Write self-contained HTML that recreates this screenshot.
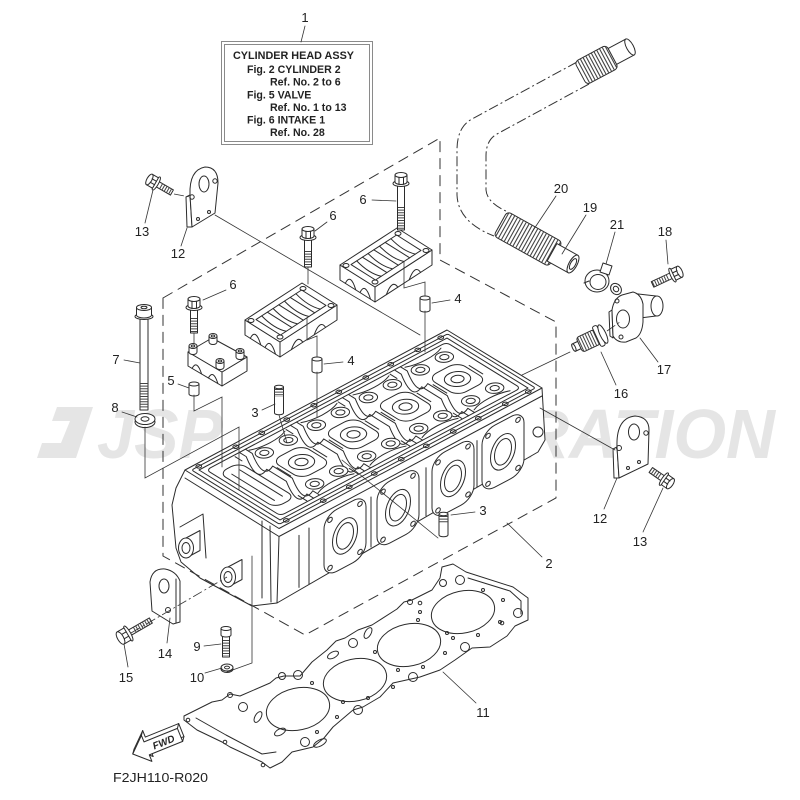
<!DOCTYPE html>
<html><head><meta charset="utf-8"><title>Cylinder Head Assy</title>
<style>
html,body{margin:0;padding:0;background:#fff;width:800px;height:800px;overflow:hidden}
svg{display:block}
.l{fill:none;stroke:#2b2b2b;stroke-width:1;stroke-linejoin:round;stroke-linecap:round}
.w{fill:#fff;stroke:#2b2b2b;stroke-width:1;stroke-linejoin:round}
.th{fill:none;stroke:#333;stroke-width:0.8;stroke-linecap:round}
.dd{fill:none;stroke:#333;stroke-width:1;stroke-dasharray:10 3 2 3}
.thr{fill:none;stroke:#444;stroke-width:6;stroke-dasharray:1 1.6}
.ns *{vector-effect:non-scaling-stroke}
.lb{font-family:"Liberation Sans",Arial,sans-serif;font-size:13px;fill:#222;text-anchor:middle}
.bx{font-family:"Liberation Sans",Arial,sans-serif;font-size:10.6px;font-weight:bold;fill:#222}
</style></head><body>
<svg width="800" height="800" viewBox="0 0 800 800" xmlns="http://www.w3.org/2000/svg">
<rect width="800" height="800" fill="#fff"/>

<!-- watermark -->
<g fill="#e5e5e5">
<polygon points="57,407 93,407 76,458 37,458 42,443 61,443 70,421 52,421"/>
<text x="97" y="458" font-family="Liberation Sans, Arial, sans-serif" font-weight="bold" font-style="italic" font-size="70" textLength="126" lengthAdjust="spacingAndGlyphs">JSP</text>
<text x="288" y="458" font-family="Liberation Sans, Arial, sans-serif" font-weight="bold" font-style="italic" font-size="70" textLength="487" lengthAdjust="spacingAndGlyphs">RESTORATION</text>
</g>

<!-- title box -->
<rect x="221.5" y="41.5" width="151" height="103" fill="none" stroke="#8a8a8a" stroke-width="1"/>
<rect x="224.5" y="44.5" width="145" height="97" fill="none" stroke="#8a8a8a" stroke-width="1"/>
<text class="bx" x="233" y="59" textLength="121" lengthAdjust="spacingAndGlyphs">CYLINDER HEAD ASSY</text>
<text class="bx" x="247" y="73">Fig. 2 CYLINDER 2</text>
<text class="bx" x="270" y="85.5">Ref. No. 2 to 6</text>
<text class="bx" x="247" y="98.3">Fig. 5 VALVE</text>
<text class="bx" x="270" y="110.8">Ref. No. 1 to 13</text>
<text class="bx" x="247" y="123.3">Fig. 6 INTAKE 1</text>
<text class="bx" x="270" y="135.8">Ref. No. 28</text>

<!-- hose -->
<path class="dd" d="M577,62 L472,119 Q457,127 457,150 L457,195 Q458,222 494,236"/>
<path class="dd" d="M589,84 L497,134 Q486,140 486,156 L486,190 Q487,203 508,212"/>
<g transform="translate(630,47) rotate(151.9)">
<rect class="w" x="0" y="-9" width="22" height="18"/>
<rect class="w" x="20" y="-13" width="36" height="26" rx="4"/>
<line x1="21" y1="0" x2="55" y2="0" stroke="#444" stroke-width="25" stroke-dasharray="1.1 2"/>
<ellipse class="w" cx="0" cy="0" rx="3.5" ry="9"/>
</g>
<g transform="translate(573,264) rotate(209.1)">
<rect class="w" x="20" y="-14" width="63" height="28" rx="4"/>
<line x1="21" y1="0" x2="82" y2="0" stroke="#444" stroke-width="27" stroke-dasharray="1.1 2.2"/>
<rect class="w" x="0" y="-10" width="24" height="20"/>
<ellipse class="w" cx="0" cy="0" rx="4" ry="10"/>
<ellipse class="l" cx="0" cy="0" rx="2.5" ry="6"/>
</g>

<!-- clamp 21 -->
<ellipse class="w" cx="597" cy="281" rx="12" ry="11"/>
<ellipse class="w" cx="598" cy="282" rx="8" ry="7.5"/>
<path class="w" d="M600,272 L603,263 L612,266 L609,275 Z"/>
<path class="l" d="M584,283 L589,281"/>

<!-- part 17 -->
<path class="w" d="M630,293 L656,296 L656,316 L640,318 Z"/>
<ellipse class="w" cx="657" cy="306" rx="6" ry="10"/>
<path class="w" d="M612,310 L609,312 L610,336 L613,338 Z"/>
<path class="w" d="M612,310 Q614,298 622,295 L633,292 Q641,294 643,304 L643,322 Q642,334 636,338 L626,342 Q617,343 613,336 Z"/>
<ellipse class="l" cx="623" cy="319" rx="6.5" ry="9"/>
<circle class="l" cx="617" cy="301" r="2"/>
<circle class="l" cx="621" cy="337" r="2"/>
<ellipse class="w" cx="616" cy="289" rx="5" ry="6" transform="rotate(-40 616 289)"/>
<ellipse class="l" cx="616" cy="289" rx="2.5" ry="3" transform="rotate(-40 616 289)"/>

<!-- part 16 -->
<g transform="translate(573,348) rotate(-25)">
<rect class="w" x="0" y="-4" width="8" height="8" rx="1.5"/>
<rect class="w" x="7" y="-8" width="20" height="16" rx="3"/>
<line x1="8" y1="0" x2="26" y2="0" stroke="#444" stroke-width="15" stroke-dasharray="1 1.8"/>
<rect class="w" x="26" y="-11" width="5" height="22" rx="2"/>
<ellipse class="w" cx="33" cy="0" rx="3" ry="10"/>
<ellipse class="w" cx="1" cy="0" rx="1.5" ry="4"/>
</g>

<!-- bolt 18 -->
<g transform="translate(677,273) rotate(155)">
<rect class="w" x="5" y="-3" width="22" height="6"/>
<line x1="10" y1="0" x2="27" y2="0" class="thr"/>
<ellipse class="w" cx="5" cy="0" rx="2" ry="7.5"/>
<path class="w" d="M-3,-6 L4,-6 L4,6 L-3,6 Z"/>
<ellipse class="w" cx="-3" cy="0" rx="2.5" ry="6"/>
<path class="l" d="M-1,-2 L4,-2 M-1,2 L4,2"/>
</g>

<!-- CYLINDER HEAD -->
<path class="w" d="M185,470 L447,330 L542,388 L545,440 L538,452 L277,603 L252,606 L200,578 L181,562 L176,548 L172,505 L176,488 Z"/>
<path class="l" d="M185,470 L279,528.5 L542,388 M185,478 L279,536.5 L542,396 M279,536.5 L277,603"/>
<g class="ns" transform="matrix(1,-0.532,0.853,0.526,199,470)">
<rect class="l" x="0" y="0" width="248" height="95"/>
<rect class="l" x="4" y="4" width="240" height="87" rx="4"/>
<rect class="w" x="8" y="14" width="20" height="66" rx="8"/>
<path class="l" d="M14,22 L14,72 M22,22 L22,72"/>
<path class="l" d="M37,4 L37,12 Q19,46 37,36 L37,59 Q19,93 37,83 L37,91 M43,4 L43,12 Q25,46 43,36 L43,59 Q25,93 43,83 L43,91 M31,6 L31,14 M31,80 L31,90"/>
<path class="l" d="M88,4 L88,12 Q70,46 88,36 L88,59 Q70,93 88,83 L88,91 M94,4 L94,12 Q76,46 94,36 L94,59 Q76,93 94,83 L94,91 M82,6 L82,14 M82,80 L82,90"/>
<path class="l" d="M140,4 L140,12 Q122,46 140,36 L140,59 Q122,93 140,83 L140,91 M146,4 L146,12 Q128,46 146,36 L146,59 Q128,93 146,83 L146,91 M134,6 L134,14 M134,80 L134,90"/>
<path class="l" d="M192,4 L192,12 Q174,46 192,36 L192,59 Q174,93 192,83 L192,91 M198,4 L198,12 Q180,46 198,36 L198,59 Q180,93 198,83 L198,91 M186,6 L186,14 M186,80 L186,90"/>
<path class="l" d="M44,7 C54,12 70,12 80,7 M44,88 C54,83 70,83 80,88 M96,7 C106,12 122,12 132,7 M96,88 C106,83 122,83 132,88 M148,7 C158,12 174,12 184,7 M148,88 C158,83 174,83 184,88 M200,7 C210,12 226,12 236,7 M200,88 C210,83 226,83 236,88"/>
<path class="l" d="M44,40 L44,56 M80,40 L80,56 M96,40 L96,56 M132,40 L132,56 M148,40 L148,56 M184,40 L184,56 M200,40 L200,56 M236,40 L236,56"/>
<rect class="w" x="47" y="30" width="30" height="35" rx="9"/>
<circle class="w" cx="62" cy="47.5" r="10"/><circle class="l" cx="62" cy="47.5" r="5"/>
<rect class="w" x="99" y="30" width="30" height="35" rx="9"/>
<circle class="w" cx="114" cy="47.5" r="10"/><circle class="l" cx="114" cy="47.5" r="5"/>
<rect class="w" x="151" y="30" width="30" height="35" rx="9"/>
<circle class="w" cx="166" cy="47.5" r="10"/><circle class="l" cx="166" cy="47.5" r="5"/>
<rect class="w" x="203" y="30" width="30" height="35" rx="9"/>
<circle class="w" cx="218" cy="47.5" r="10"/><circle class="l" cx="218" cy="47.5" r="5"/>
<circle class="w" cx="50" cy="18" r="7"/><circle class="l" cx="50" cy="18" r="3.5"/>
<circle class="w" cx="74" cy="18" r="7"/><circle class="l" cx="74" cy="18" r="3.5"/>
<circle class="w" cx="50" cy="77" r="7"/><circle class="l" cx="50" cy="77" r="3.5"/>
<circle class="w" cx="74" cy="77" r="7"/><circle class="l" cx="74" cy="77" r="3.5"/>
<circle class="w" cx="102" cy="18" r="7"/><circle class="l" cx="102" cy="18" r="3.5"/>
<circle class="w" cx="126" cy="18" r="7"/><circle class="l" cx="126" cy="18" r="3.5"/>
<circle class="w" cx="102" cy="77" r="7"/><circle class="l" cx="102" cy="77" r="3.5"/>
<circle class="w" cx="126" cy="77" r="7"/><circle class="l" cx="126" cy="77" r="3.5"/>
<circle class="w" cx="154" cy="18" r="7"/><circle class="l" cx="154" cy="18" r="3.5"/>
<circle class="w" cx="178" cy="18" r="7"/><circle class="l" cx="178" cy="18" r="3.5"/>
<circle class="w" cx="154" cy="77" r="7"/><circle class="l" cx="154" cy="77" r="3.5"/>
<circle class="w" cx="178" cy="77" r="7"/><circle class="l" cx="178" cy="77" r="3.5"/>
<circle class="w" cx="206" cy="18" r="7"/><circle class="l" cx="206" cy="18" r="3.5"/>
<circle class="w" cx="230" cy="18" r="7"/><circle class="l" cx="230" cy="18" r="3.5"/>
<circle class="w" cx="206" cy="77" r="7"/><circle class="l" cx="206" cy="77" r="3.5"/>
<circle class="w" cx="230" cy="77" r="7"/><circle class="l" cx="230" cy="77" r="3.5"/>
<circle class="l" cx="3" cy="-3.8" r="2.2"/><circle class="l" cx="40" cy="-3.8" r="2.2"/>
<circle class="l" cx="91" cy="-3.8" r="2.2"/><circle class="l" cx="143" cy="-3.8" r="2.2"/>
<circle class="l" cx="195" cy="-3.8" r="2.2"/><circle class="l" cx="245" cy="-3.8" r="2.2"/>
<circle class="l" cx="66" cy="-3.8" r="2.2"/><circle class="l" cx="118" cy="-3.8" r="2.2"/>
<circle class="l" cx="170" cy="-3.8" r="2.2"/><circle class="l" cx="222" cy="-3.8" r="2.2"/>
<circle class="l" cx="3" cy="98.8" r="2.2"/><circle class="l" cx="40" cy="98.8" r="2.2"/>
<circle class="l" cx="91" cy="98.8" r="2.2"/><circle class="l" cx="143" cy="98.8" r="2.2"/>
<circle class="l" cx="195" cy="98.8" r="2.2"/><circle class="l" cx="245" cy="98.8" r="2.2"/>
<circle class="l" cx="66" cy="98.8" r="2.2"/><circle class="l" cx="118" cy="98.8" r="2.2"/>
<circle class="l" cx="170" cy="98.8" r="2.2"/><circle class="l" cx="222" cy="98.8" r="2.2"/>
<rect class="l" x="-4" y="-4" width="256" height="103" rx="2"/>
</g>
<g class="ns" transform="matrix(1,-0.532,0,1,279,536)">
<rect class="w" x="45" y="4" width="42" height="62" rx="13"/>
<ellipse class="l" cx="66" cy="35" rx="12.5" ry="17"/><ellipse class="l" cx="66" cy="35" rx="8.5" ry="12.5"/>
<circle class="l" cx="51" cy="11" r="2.3"/><circle class="l" cx="81" cy="11" r="2.3"/>
<circle class="l" cx="51" cy="59" r="2.3"/><circle class="l" cx="81" cy="59" r="2.3"/>
<rect class="w" x="98" y="4" width="42" height="62" rx="13"/>
<ellipse class="l" cx="119" cy="35" rx="12.5" ry="17"/><ellipse class="l" cx="119" cy="35" rx="8.5" ry="12.5"/>
<circle class="l" cx="104" cy="11" r="2.3"/><circle class="l" cx="134" cy="11" r="2.3"/>
<circle class="l" cx="104" cy="59" r="2.3"/><circle class="l" cx="134" cy="59" r="2.3"/>
<rect class="w" x="153" y="4" width="42" height="62" rx="13"/>
<ellipse class="l" cx="174" cy="35" rx="12.5" ry="17"/><ellipse class="l" cx="174" cy="35" rx="8.5" ry="12.5"/>
<circle class="l" cx="159" cy="11" r="2.3"/><circle class="l" cx="189" cy="11" r="2.3"/>
<circle class="l" cx="159" cy="59" r="2.3"/><circle class="l" cx="189" cy="59" r="2.3"/>
<rect class="w" x="203" y="4" width="42" height="62" rx="13"/>
<ellipse class="l" cx="224" cy="35" rx="12.5" ry="17"/><ellipse class="l" cx="224" cy="35" rx="8.5" ry="12.5"/>
<circle class="l" cx="209" cy="11" r="2.3"/><circle class="l" cx="239" cy="11" r="2.3"/>
<circle class="l" cx="209" cy="59" r="2.3"/><circle class="l" cx="239" cy="59" r="2.3"/>
<path class="l" d="M20,10 L20,62 M30,8 L30,64 M92,10 L92,60 M147,10 L147,58 M198,10 L198,56"/>
</g>
<circle class="w" cx="538" cy="432" r="5"/>
<path class="l" d="M180,527 L203,514 L206,558 M262,521 L262,598 M270,526 L271,602"/>
<polygon class="w" points="186,538 200,530.5 200,550.5 186,558"/>
<ellipse class="w" cx="186" cy="548" rx="7.5" ry="10"/>
<ellipse class="l" cx="186" cy="548" rx="4" ry="5.5"/>
<polygon class="w" points="228,567 242,559.5 242,579.5 228,587"/>
<ellipse class="w" cx="228" cy="577" rx="7.5" ry="10"/>
<ellipse class="l" cx="228" cy="577" rx="4" ry="5.5"/>

<!-- gasket 11 -->
<path class="w" d="M184,716 L212,702 L222,700 L230,694 L240,696 L270,683 L276,678 L284,676 L300,676 L312,662 L327,650 L336,641 L345,638 L358,630 L372,625 L397,609 L404,602 L412,600 L432,590 L440,578 L442,567 L453,564 L466,572 L513,587 L528,598 L528,620 L515,626 L507,636 L490,647 L472,648 L455,660 L440,670 L420,677 L393,683 L380,697 L363,707 L353,710 L333,727 L324,738 L313,747 L292,752 L282,762 L270,768 L262,762 L230,747 L222,742 L197,730 L184,720 Z"/>
<path class="l" d="M196,718 L226,735 L262,754 L276,752 M468,578 L510,591 L521,601 L521,614"/>
<ellipse class="w" cx="298" cy="709" rx="32" ry="21" transform="rotate(-12 298 709)"/>
<ellipse class="w" cx="355" cy="680" rx="32" ry="21" transform="rotate(-12 355 680)"/>
<ellipse class="w" cx="409" cy="645" rx="32" ry="21" transform="rotate(-12 409 645)"/>
<ellipse class="w" cx="463" cy="612" rx="32" ry="21" transform="rotate(-12 463 612)"/>
<g class="l">
<circle cx="230" cy="695" r="2.5"/><circle cx="282" cy="676" r="3.5"/><circle cx="298" cy="675" r="4.5"/>
<ellipse cx="333" cy="655" rx="6" ry="3" transform="rotate(-28 333 655)"/>
<ellipse cx="368" cy="633" rx="6" ry="3" transform="rotate(-60 368 633)"/>
<circle cx="353" cy="643" r="4.5"/><circle cx="410" cy="602" r="2.5"/><circle cx="420" cy="603" r="1.8"/>
<circle cx="443" cy="583" r="3.5"/><circle cx="460" cy="580" r="4.5"/><circle cx="518" cy="613" r="4.5"/>
<circle cx="502" cy="623" r="1.8"/><circle cx="465" cy="647" r="4.5"/><circle cx="413" cy="677" r="4.5"/>
<circle cx="358" cy="710" r="4.5"/><circle cx="305" cy="742" r="4.5"/>
<ellipse cx="320" cy="743" rx="7" ry="3" transform="rotate(-28 320 743)"/>
<ellipse cx="280" cy="732" rx="6" ry="3" transform="rotate(-28 280 732)"/>
<ellipse cx="258" cy="717" rx="6" ry="3" transform="rotate(-60 258 717)"/>
<circle cx="243" cy="707" r="4.5"/><circle cx="225" cy="742" r="1.8"/><circle cx="263" cy="765" r="1.8"/>
<circle cx="188" cy="720" r="1.8"/><circle cx="343" cy="702" r="1.5"/><circle cx="337" cy="717" r="1.5"/>
<circle cx="317" cy="732" r="1.5"/><circle cx="312" cy="683" r="1.5"/><circle cx="368" cy="698" r="1.5"/>
<circle cx="375" cy="652" r="1.5"/><circle cx="393" cy="687" r="1.5"/><circle cx="398" cy="670" r="1.5"/>
<circle cx="423" cy="667" r="1.5"/><circle cx="447" cy="633" r="1.5"/><circle cx="445" cy="653" r="1.5"/>
<circle cx="453" cy="638" r="1.5"/><circle cx="478" cy="635" r="1.5"/><circle cx="500" cy="622" r="1.5"/>
<circle cx="503" cy="600" r="1.5"/><circle cx="483" cy="590" r="1.5"/><circle cx="418" cy="620" r="1.5"/>
<circle cx="420" cy="612" r="1.5"/>
</g>

<!-- bearing caps -->
<g id="capR">
<polygon class="w" points="340,265 375,287 375,302 340,280"/>
<path class="l" d="M345.3,283.3 Q350.5,272.6 355.8,289.9 M360,292.5 Q365.2,281.8 370.5,299.1"/>
<polygon class="w" points="375,287 432,250 432,265 375,302"/>
<path class="l" d="M386.4,294.6 Q392.1,278.9 397.8,287.2 M409.2,279.8 Q414.9,264.1 420.6,272.4"/>
<polygon class="w" points="340,265 397,228 432,250 375,287"/>
<polygon class="l" points="351,264.6 396.6,235 421,250.4 375.5,280"/>
<path class="l" d="M362.4,257.2 L386.9,272.6 M373.8,249.8 L398.3,265.2 M385.2,242.4 L409.7,257.8"/>
<path class="l" d="M356.7,260.9 Q369,273.6 381.2,276.3 M368.1,253.5 Q380.4,266.2 392.6,268.9 M379.5,246.1 Q391.8,258.8 404,261.5 M390.9,238.7 Q403.2,251.4 415.4,254.1"/>
<ellipse class="l" cx="346" cy="265.5" rx="3" ry="2"/>
<ellipse class="l" cx="398" cy="233.5" rx="3" ry="2"/>
<ellipse class="l" cx="426" cy="250.5" rx="3" ry="2"/>
<ellipse class="l" cx="375" cy="282" rx="3" ry="2"/>
</g>
<use href="#capR" transform="translate(-95,55)"/>

<!-- small cap -->
<polygon class="w" points="188,352 222,372 222,386 188,366"/>
<path class="l" d="M192.1,368.4 Q196.8,359.2 201.6,374 M208.4,378 Q213.2,368.8 217.9,383.6"/>
<polygon class="w" points="222,372 247,357 247,371 222,386"/>
<polygon class="w" points="188,352 212,338 247,357 222,372"/>
<path class="w" d="M189,346 L189,352 A4,2.5 0 0 0 197,352 L197,346 Z"/><ellipse class="w" cx="193" cy="346" rx="4" ry="2.5"/><ellipse class="l" cx="193" cy="346" rx="1.8" ry="1"/>
<path class="w" d="M209,336 L209,342 A4,2.5 0 0 0 217,342 L217,336 Z"/><ellipse class="w" cx="213" cy="336" rx="4" ry="2.5"/><ellipse class="l" cx="213" cy="336" rx="1.8" ry="1"/>
<path class="w" d="M236,351 L236,357 A4,2.5 0 0 0 244,357 L244,351 Z"/><ellipse class="w" cx="240" cy="351" rx="4" ry="2.5"/><ellipse class="l" cx="240" cy="351" rx="1.8" ry="1"/>
<path class="w" d="M216,361 L216,367 A4,2.5 0 0 0 224,367 L224,361 Z"/><ellipse class="w" cx="220" cy="361" rx="4" ry="2.5"/><ellipse class="l" cx="220" cy="361" rx="1.8" ry="1"/>

<!-- bolts 6 -->
<g transform="translate(401,173)">
<rect class="w" x="-3.5" y="11" width="7" height="46"/>
<line x1="0" y1="34" x2="0" y2="56" class="thr"/>
<ellipse class="w" cx="0" cy="10.5" rx="8" ry="3"/>
<path class="w" d="M-6,2 L-6,9 A6,2.5 0 0 0 6,9 L6,2 Z"/>
<ellipse class="w" cx="0" cy="2" rx="6" ry="2.5"/>
<path class="l" d="M-2,4.4 L-2,11.3 M2.5,4.4 L2.5,11.3"/>
</g>
<g transform="translate(308,227)">
<rect class="w" x="-3.5" y="11" width="7" height="29"/>
<line x1="0" y1="24" x2="0" y2="39" class="thr"/>
<ellipse class="w" cx="0" cy="10.5" rx="8" ry="3"/>
<path class="w" d="M-6,2 L-6,9 A6,2.5 0 0 0 6,9 L6,2 Z"/>
<ellipse class="w" cx="0" cy="2" rx="6" ry="2.5"/>
<path class="l" d="M-2,4.4 L-2,11.3 M2.5,4.4 L2.5,11.3"/>
</g>
<g transform="translate(194,297)">
<rect class="w" x="-3.5" y="11" width="7" height="25"/>
<line x1="0" y1="21" x2="0" y2="35" class="thr"/>
<ellipse class="w" cx="0" cy="10.5" rx="8" ry="3"/>
<path class="w" d="M-6,2 L-6,9 A6,2.5 0 0 0 6,9 L6,2 Z"/>
<ellipse class="w" cx="0" cy="2" rx="6" ry="2.5"/>
<path class="l" d="M-2,4.4 L-2,11.3 M2.5,4.4 L2.5,11.3"/>
</g>
<!-- bolt 7 -->
<g transform="translate(144,305)">
<rect class="w" x="-4" y="12" width="8" height="93"/>
<line x1="0" y1="78" x2="0" y2="104" class="thr" style="stroke-width:8"/>
<ellipse class="w" cx="0" cy="11.5" rx="9" ry="3"/>
<path class="w" d="M-7.5,2.5 L-7.5,10 A7.5,3 0 0 0 7.5,10 L7.5,2.5 Z"/>
<ellipse class="w" cx="0" cy="2.5" rx="7.5" ry="3"/>
<ellipse class="l" cx="0" cy="2.5" rx="3" ry="1.2"/>
</g>
<!-- washer 8 -->
<ellipse class="w" cx="145" cy="422" rx="10" ry="5.5"/>
<ellipse class="w" cx="145" cy="419" rx="10" ry="5.5"/>
<ellipse class="l" cx="145" cy="419" rx="4" ry="2.2"/>
<!-- bolt 9 -->
<g transform="translate(226,627)">
<rect class="w" x="-3.5" y="8" width="7" height="22"/>
<line x1="0" y1="13" x2="0" y2="29" class="thr"/>
<path class="w" d="M-5,1.5 L-5,8 A5,2 0 0 0 5,8 L5,1.5 Z"/>
<ellipse class="w" cx="0" cy="1.5" rx="5" ry="2"/>
</g>
<!-- washer 10 -->
<ellipse class="w" cx="227" cy="669" rx="6" ry="3.5"/>
<ellipse class="w" cx="227" cy="667.5" rx="6" ry="3.5"/>
<ellipse class="l" cx="227" cy="667.5" rx="2.5" ry="1.4"/>

<!-- dowels -->
<path class="w" d="M420,298 L420,310 A5,2 0 0 0 430,310 L430,298 Z"/><ellipse class="w" cx="425" cy="298" rx="5" ry="2"/>
<path class="w" d="M312,359 L312,371 A5,2 0 0 0 322,371 L322,359 Z"/><ellipse class="w" cx="317" cy="359" rx="5" ry="2"/>
<path class="w" d="M189,384 L189,394 A5,2 0 0 0 199,394 L199,384 Z"/><ellipse class="w" cx="194" cy="384" rx="5" ry="2"/>

<!-- valve guides 3 -->
<path class="w" d="M274.5,387 L274.5,413 A4.5,1.8 0 0 0 283.5,413 L283.5,387 Z"/>
<line x1="279" y1="389" x2="279" y2="397" class="thr" style="stroke-width:9"/>
<ellipse class="w" cx="279" cy="387" rx="4.5" ry="1.8"/>
<path class="w" d="M439,514 L439,535 A4.5,1.8 0 0 0 448,535 L448,514 Z"/>
<line x1="443.5" y1="516" x2="443.5" y2="523" class="thr" style="stroke-width:9"/>
<ellipse class="w" cx="443.5" cy="514" rx="4.5" ry="1.8"/>

<!-- plate 12 top-left -->
<path class="w" d="M186,197 L187,227 L192,227 L190,195 Z"/>
<path class="w" d="M190,195 Q189,170 205,167 Q218,167 218,183 L215,213 L192,227 Z"/>
<ellipse class="l" cx="204" cy="184" rx="5" ry="8"/>
<circle class="l" cx="215" cy="181" r="2.2"/>
<circle class="l" cx="192" cy="197" r="2.2"/>
<circle class="l" cx="198" cy="219" r="1.5"/>
<circle class="l" cx="209" cy="212" r="1.5"/>
<!-- bolt 13 top-left -->
<g transform="translate(152,181) rotate(30)">
<rect class="w" x="5" y="-3" width="18" height="6"/>
<line x1="10" y1="0" x2="23" y2="0" class="thr"/>
<ellipse class="w" cx="5" cy="0" rx="2" ry="7.5"/>
<path class="w" d="M-3,-6 L4,-6 L4,6 L-3,6 Z"/>
<ellipse class="w" cx="-3" cy="0" rx="2.5" ry="6"/>
<path class="l" d="M-1,-2 L4,-2 M-1,2 L4,2"/>
</g>

<!-- plate 12 right -->
<path class="w" d="M613,449 L614,478 L619,478 L617,447 Z"/>
<path class="w" d="M617,447 Q616,418 635,416 Q649,417 649,430 L648,464 L619,478 Z"/>
<ellipse class="l" cx="634" cy="432" rx="5.5" ry="8"/>
<circle class="l" cx="646" cy="433" r="2.2"/>
<circle class="l" cx="619" cy="448" r="2.5"/>
<circle class="l" cx="628" cy="468" r="1.5"/>
<circle class="l" cx="639" cy="462" r="1.5"/>
<!-- bolt 13 right -->
<g transform="translate(668,482) rotate(215)">
<rect class="w" x="5" y="-3" width="16" height="6"/>
<line x1="10" y1="0" x2="21" y2="0" class="thr"/>
<ellipse class="w" cx="5" cy="0" rx="2" ry="7.5"/>
<path class="w" d="M-3,-6 L4,-6 L4,6 L-3,6 Z"/>
<ellipse class="w" cx="-3" cy="0" rx="2.5" ry="6"/>
<path class="l" d="M-1,-2 L4,-2 M-1,2 L4,2"/>
</g>

<!-- plate 14 -->
<path class="w" d="M150,582 Q152,568 165,569 Q176,571 180,581 L180,622 L173,624 L152,611 Z"/>
<path class="l" d="M176,579 L176,623"/>
<ellipse class="l" cx="164" cy="586" rx="5" ry="7"/>
<circle class="l" cx="168" cy="610" r="2.5"/>
<!-- bolt 15 -->
<g transform="translate(124,636) rotate(-30)">
<rect class="w" x="5" y="-3" width="26" height="6"/>
<line x1="12" y1="0" x2="31" y2="0" class="thr"/>
<ellipse class="w" cx="5" cy="0" rx="2.2" ry="8.5"/>
<path class="w" d="M-4,-7 L4,-7 L4,7 L-4,7 Z"/>
<ellipse class="w" cx="-4" cy="0" rx="3" ry="7"/>
<path class="l" d="M-1,-2.5 L4,-2.5 M-1,2.5 L4,2.5"/>
</g>

<!-- assembly dashed boundary -->
<polygon points="163,298 440,138 440,260 556,322 556,498 305,635 163,556" fill="none" stroke="#333" stroke-width="1" stroke-dasharray="11 6"/>

<!-- assembly lines -->
<g class="th">
<path d="M215,215 L420,335"/>
<path d="M540,408 L615,450"/>
<path d="M570,352 L522,375"/>
<path d="M145,427 L145,478 L239,427 L239,490"/>
<path d="M194,395 L194,411 L222,397 L222,467"/>
<path d="M194,333 L194,344"/>
<path d="M308,267 L308,284"/>
<path d="M307,318 L307,340 L317,336 L317,357"/>
<path d="M317,372 L317,417"/>
<path d="M404,262 L404,288 L425,282 L425,296"/>
<path d="M425,311 L425,352"/>
<path d="M279,415 L287,443"/>
<path d="M342,460 L438,538"/>
<path d="M227,672 L252,663 L252,556"/>
</g>
<path class="dd" style="stroke-width:0.8" d="M131,633 L227,577"/>
<path class="dd" style="stroke-width:0.8" d="M174,194 L190,197"/>
<path class="dd" style="stroke-width:0.8" d="M607,331 L620,322"/>

<!-- leaders -->
<g class="th">
<path d="M305,26 L301,42"/>
<path d="M542,557 L507,523"/>
<path d="M262,410 L275,404"/>
<path d="M475,512 L451,515"/>
<path d="M450,300 L432,303"/>
<path d="M343,362 L324,364"/>
<path d="M178,384 L189,388"/>
<path d="M226,290 L203,300"/>
<path d="M327,222 L315,231"/>
<path d="M372,200 L396,201"/>
<path d="M124,360 L140,363"/>
<path d="M122,412 L137,417"/>
<path d="M204,646 L221,644"/>
<path d="M205,673 L222,668"/>
<path d="M476,703 L443,672"/>
<path d="M181,246 L187,228"/>
<path d="M604,509 L617,478"/>
<path d="M145,223 L153,190"/>
<path d="M643,532 L663,488"/>
<path d="M167,643 L170,618"/>
<path d="M128,667 L124,644"/>
<path d="M616,385 L601,352"/>
<path d="M658,362 L640,338"/>
<path d="M666,240 L668,264"/>
<path d="M586,215 L562,254"/>
<path d="M556,196 L532,232"/>
<path d="M615,232 L606,264"/>
</g>

<!-- labels -->
<g class="lb">
<text x="305" y="22">1</text>
<text x="549" y="568">2</text>
<text x="255" y="417">3</text>
<text x="483" y="515">3</text>
<text x="458" y="303">4</text>
<text x="351" y="365">4</text>
<text x="171" y="385">5</text>
<text x="233" y="289">6</text>
<text x="333" y="220">6</text>
<text x="363" y="204">6</text>
<text x="116" y="364">7</text>
<text x="115" y="412">8</text>
<text x="197" y="651">9</text>
<text x="197" y="682">10</text>
<text x="483" y="717">11</text>
<text x="178" y="258">12</text>
<text x="600" y="523">12</text>
<text x="142" y="236">13</text>
<text x="640" y="546">13</text>
<text x="165" y="658">14</text>
<text x="126" y="682">15</text>
<text x="621" y="398">16</text>
<text x="664" y="374">17</text>
<text x="665" y="236">18</text>
<text x="590" y="212">19</text>
<text x="561" y="193">20</text>
<text x="617" y="229">21</text>
</g>

<!-- FWD arrow -->
<g transform="translate(155,745) rotate(-22)">
<polygon class="w" points="-21,-4 -6,-18 -6,-11 30,-11 30,3 -6,3 -6,10"/>
<polygon class="w" points="-24,0 -9,-14 -9,-7 27,-7 27,7 -9,7 -9,14"/>
<path class="l" d="M-24,0 L-21,-4 M-9,-14 L-6,-18 M27,-7 L30,-11 M27,7 L30,3"/>
<text x="9" y="4" font-family="Liberation Sans, Arial, sans-serif" font-weight="bold" font-style="italic" font-size="10" fill="#222" text-anchor="middle">FWD</text>
</g>
<text x="113" y="782" font-family="Liberation Sans, Arial, sans-serif" font-size="13" fill="#222" textLength="95" lengthAdjust="spacingAndGlyphs">F2JH110-R020</text>
</svg>
</body></html>
